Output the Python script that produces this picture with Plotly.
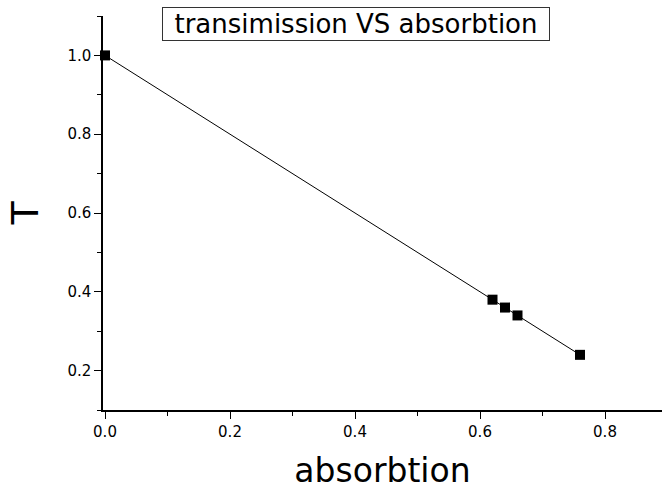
import plotly.graph_objects as go

absorption = [0.0, 0.62, 0.64, 0.66, 0.76]
transmission = [1.0, 0.38, 0.36, 0.34, 0.24]
x_major = [0.0, 0.2, 0.4, 0.6, 0.8]
x_minor = [0.1, 0.3, 0.5, 0.7]
y_major = [0.2, 0.4, 0.6, 0.8, 1.0]
y_minor = [0.1, 0.3, 0.5, 0.7, 0.9, 1.1]

FONT = "DejaVu Sans"

fig = go.Figure()
fig.add_trace(go.Scatter(
    x=absorption, y=transmission, mode="lines+markers",
    line=dict(color="black", width=1),
    marker=dict(symbol="square", size=10, color="black"),
    cliponaxis=False, showlegend=False,
))

axis_common = dict(
    showgrid=False, zeroline=False, showline=True, linecolor="black", linewidth=1.5,
    ticks="outside", ticklen=7, tickwidth=1.2, tickcolor="black",
    tickfont=dict(family=FONT, size=15, color="black"), tickformat=".1f",
    tickmode="array",
)

fig.update_layout(
    width=662, height=490,
    margin=dict(l=103, r=0, t=16, b=80),
    paper_bgcolor="white", plot_bgcolor="white",
    font=dict(family=FONT, color="black"),
    xaxis=dict(
        range=[-0.0032, 0.8912], tickvals=x_major,
        minor=dict(tickmode="array", tickvals=x_minor, ticks="outside", ticklen=4,
                   tickwidth=1.2, tickcolor="black", showgrid=False),
        title=dict(text="absorbtion", font=dict(family=FONT, size=33), standoff=20),
        **axis_common,
    ),
    yaxis=dict(
        range=[0.1, 1.1], tickvals=y_major,
        minor=dict(tickmode="array", tickvals=y_minor, ticks="outside", ticklen=4,
                   tickwidth=1.2, tickcolor="black", showgrid=False),
        title=dict(text="T", font=dict(family=FONT, size=38), standoff=17),
        **axis_common,
    ),
    annotations=[dict(
        text="transimission VS absorbtion", xref="paper", yref="paper",
        x=(356 - 103) / 559, y=1 + (16 - 23.6) / 394, xanchor="center", yanchor="middle",
        showarrow=False, font=dict(family=FONT, size=26, color="black"),
        bordercolor="#333", borderwidth=1, borderpad=1, width=384, height=30, bgcolor="white",
    )],
)

fig.write_html("out.html")
